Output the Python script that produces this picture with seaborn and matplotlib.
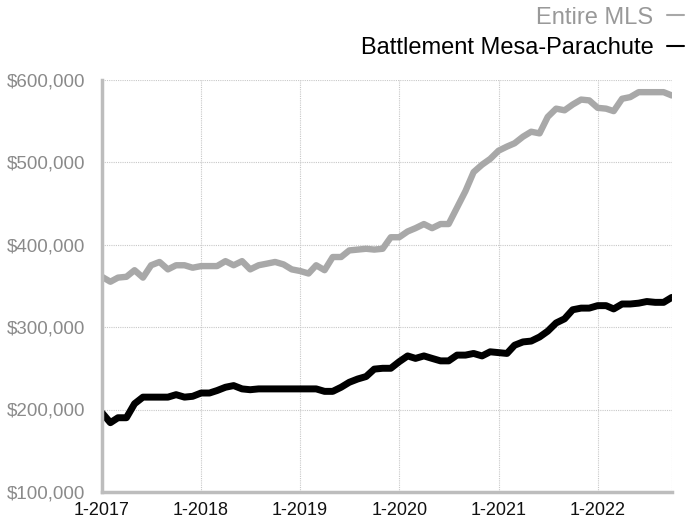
import matplotlib
matplotlib.use("Agg")
import matplotlib.pyplot as plt
import matplotlib.dates as mdates
from matplotlib.lines import Line2D
from matplotlib.ticker import FuncFormatter
import pandas as pd
import seaborn as sns

# monthly median price, thousands of dollars, 1-2017 .. 10-2022
months = pd.date_range("2017-01-01", periods=70, freq="MS")

entire_mls = [
    361, 355, 360, 361, 369, 360, 375, 379, 370, 375, 375, 372,
    374, 374, 374, 380, 375, 380, 370, 375, 377, 379, 376, 370,
    368, 365, 375, 369, 385, 385, 393, 394, 395, 394, 395, 409,
    409, 416, 420, 425, 420, 425, 425, 445, 465, 488, 497, 504,
    514, 519, 523, 531, 537, 535, 555, 565, 563, 570, 576, 575,
    566, 565, 562, 577, 579, 585, 585, 585, 585, 581,
]

battlement = [
    196, 184, 190, 190, 207, 215, 215, 215, 215, 218, 215, 216,
    220, 220, 223, 227, 229, 225, 224, 225, 225, 225, 225, 225,
    225, 225, 225, 222, 222, 227, 233, 237, 240, 249, 250, 250,
    258, 265, 262, 265, 262, 259, 259, 266, 266, 268, 265, 270,
    269, 268, 278, 282, 283, 288, 295, 305, 310, 321, 323, 323,
    326, 326, 322, 328, 328, 329, 331, 330, 330, 336,
]

series_names = ["Entire MLS", "Battlement Mesa-Parachute"]
colors = {"Entire MLS": "#a8a8a8", "Battlement Mesa-Parachute": "#000000"}

df = pd.concat([
    pd.DataFrame({"month": months, "price": [v * 1000 for v in entire_mls], "area": "Entire MLS"}),
    pd.DataFrame({"month": months, "price": [v * 1000 for v in battlement], "area": "Battlement Mesa-Parachute"}),
])

sns.set_style("white")
plt.rcParams["font.family"] = ["Liberation Sans", "DejaVu Sans"]

fig = plt.figure(figsize=(6.89, 5.25), dpi=100)
ax = fig.add_axes([0.148, 0.063, 0.827, 0.785])

sns.lineplot(data=df, x="month", y="price", hue="area", palette=colors,
             linewidth=4.6, legend=False, ax=ax)
ax.lines[1].set_linewidth(5.0)

ax.set_xlim(months[0], months[-1])
ax.set_ylim(100000, 600000)
ax.set_yticks([100000, 200000, 300000, 400000, 500000, 600000])
ax.yaxis.set_major_formatter(FuncFormatter(lambda v, p: f"${v:,.0f}"))
ax.xaxis.set_major_locator(mdates.YearLocator())
ax.xaxis.set_major_formatter(mdates.DateFormatter("1-%Y"))
ax.set_xlabel("")
ax.set_ylabel("")

ax.grid(True, color="#c8c8c8", linestyle=(0, (1, 1)), linewidth=0.8)
ax.axvline(months[-1], color="#c8c8c8", linestyle=(0, (1, 1)), linewidth=0.8)
for s in ["top", "right"]:
    ax.spines[s].set_visible(False)
for s in ["left", "bottom"]:
    ax.spines[s].set_color("#bdbdbd")
    ax.spines[s].set_linewidth(2.5)

ax.tick_params(axis="y", length=0, labelsize=13.5, labelcolor="#8a8a8a", pad=12)
ax.tick_params(axis="x", length=4, width=2.5, color="#bdbdbd", labelsize=13,
               labelcolor="#111111", pad=3)

handles = [Line2D([0], [0], color=colors[n], linewidth=1.5) for n in series_names]
leg = fig.legend(handles, series_names, loc="upper right", bbox_to_anchor=(1.024, 1.028),
                 frameon=False, markerfirst=False, handlelength=0.75, handletextpad=0.55,
                 labelspacing=0.35, fontsize=17)
for txt, n in zip(leg.get_texts(), series_names):
    txt.set_color("#999999" if n == "Entire MLS" else "#000000")

fig.savefig("out.png", dpi=100)
